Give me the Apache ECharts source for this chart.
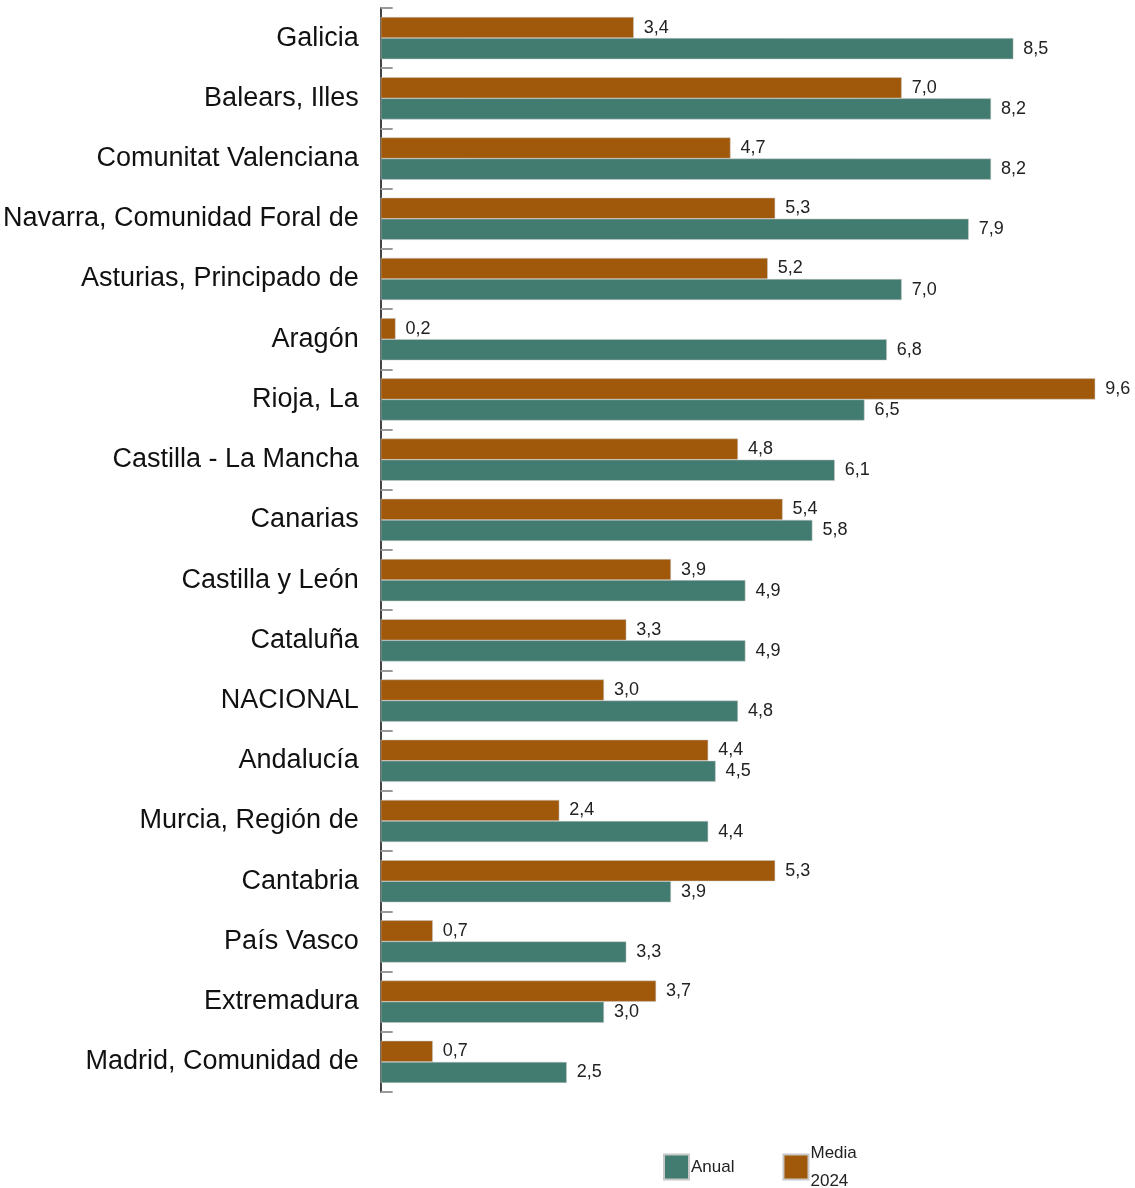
<!DOCTYPE html>
<html>
<head>
<meta charset="utf-8">
<script src="https://cdn.jsdelivr.net/npm/echarts@6/dist/echarts.min.js"></script>
<style>html,body{margin:0;padding:0;background:#fff}#chart{width:1135px;height:1188px}</style>
</head>
<body>
<div id="chart"></div>
<script>
const categories = ['Galicia', 'Balears, Illes', 'Comunitat Valenciana', 'Navarra, Comunidad Foral de',
  'Asturias, Principado de', 'Aragón', 'Rioja, La', 'Castilla - La Mancha', 'Canarias', 'Castilla y León',
  'Cataluña', 'NACIONAL', 'Andalucía', 'Murcia, Región de', 'Cantabria', 'País Vasco', 'Extremadura',
  'Madrid, Comunidad de'];
const anual = [8.5, 8.2, 8.2, 7.9, 7.0, 6.8, 6.5, 6.1, 5.8, 4.9, 4.9, 4.8, 4.5, 4.4, 3.9, 3.3, 3.0, 2.5];
const media2024 = [3.4, 7.0, 4.7, 5.3, 5.2, 0.2, 9.6, 4.8, 5.4, 3.9, 3.3, 3.0, 4.4, 2.4, 5.3, 0.7, 3.7, 0.7];

const chart = echarts.init(document.getElementById('chart'));
const fmt = (p) => p.value.toFixed(1).replace('.', ',');
const label = { show: true, position: 'right', distance: 10, color: '#222', fontSize: 18,
  fontFamily: 'Liberation Sans, Arial', formatter: fmt };

chart.setOption({
  animation: false,
  grid: { left: 379, right: 10, top: 8, bottom: 96 },
  xAxis: { type: 'value', min: 0, max: 10, show: false },
  yAxis: {
    type: 'category', inverse: true, data: categories,
    axisLine: { show: true, lineStyle: { color: '#444', width: 2 } },
    axisTick: { show: true, inside: true, length: 12, lineStyle: { color: '#999', width: 2 } },
    axisLabel: { fontSize: 27, color: '#111', margin: 22, padding: [8, 0, 0, 0],
      fontFamily: 'Liberation Sans, Arial' }
  },
  legend: {
    left: 658, top: 1134, itemWidth: 25, itemHeight: 25, itemGap: 48, icon: 'rect',
    data: ['Anual', 'Media\n2024'],
    textStyle: { fontSize: 17, color: '#222', fontFamily: 'Liberation Sans, Arial', lineHeight: 28, padding: [0, 0, 0, -3] }
  },
  series: [
    { name: 'Media\n2024', type: 'bar', data: media2024, barGap: '0%', barCategoryGap: '30%',
      itemStyle: { color: '#a0590a', borderColor: '#c8c8c8', borderWidth: 0.5 }, label },
    { name: 'Anual', type: 'bar', data: anual,
      itemStyle: { color: '#427b70', borderColor: '#c8c8c8', borderWidth: 0.5 }, label }
  ]
});
</script>
</body>
</html>
